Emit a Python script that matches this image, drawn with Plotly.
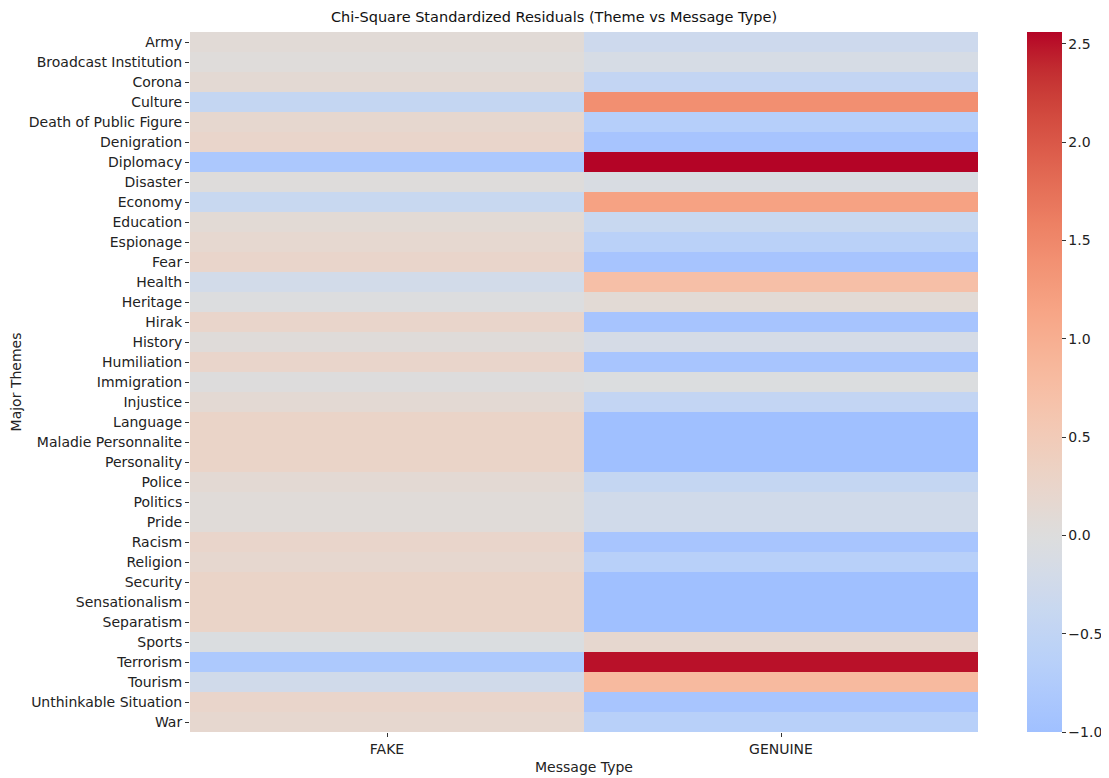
import numpy as np
import plotly.graph_objects as go

themes = ["Army", "Broadcast Institution", "Corona", "Culture", "Death of Public Figure",
          "Denigration", "Diplomacy", "Disaster", "Economy", "Education", "Espionage",
          "Fear", "Health", "Heritage", "Hirak", "History", "Humiliation", "Immigration",
          "Injustice", "Language", "Maladie Personnalite", "Personality", "Police",
          "Politics", "Pride", "Racism", "Religion", "Security", "Sensationalism",
          "Separatism", "Sports", "Terrorism", "Tourism", "Unthinkable Situation", "War"]

fake = [0.09, 0.04, 0.13, -0.45, 0.19, 0.25, -0.82, 0.03, -0.38, 0.11, 0.17,
        0.25, -0.22, -0.03, 0.25, 0.05, 0.25, 0.01, 0.13, 0.28, 0.28, 0.28, 0.13,
        0.07, 0.07, 0.25, 0.18, 0.28, 0.28, 0.28, -0.06, -0.80, -0.25, 0.25, 0.18]

genuine = [-0.31, -0.15, -0.46, 1.41, -0.67, -0.90, 2.56, -0.10, 1.18, -0.38, -0.60,
           -0.90, 0.72, 0.10, -0.90, -0.16, -0.88, -0.04, -0.46, -1.00, -1.00, -1.00,
           -0.45, -0.25, -0.25, -0.88, -0.65, -1.00, -1.00, -1.00, 0.18, 2.50, 0.82,
           -0.88, -0.65]

message_types = ["FAKE", "GENUINE"]

# matplotlib coolwarm, sampled
cw = [(59, 76, 192), (68, 90, 204), (77, 104, 215), (87, 117, 225), (98, 130, 234),
      (108, 142, 241), (119, 154, 247), (130, 165, 251), (141, 176, 254), (152, 185, 255),
      (163, 194, 255), (174, 201, 253), (184, 208, 249), (194, 213, 244), (204, 217, 238),
      (213, 219, 230), (221, 221, 221), (229, 216, 209), (236, 211, 197), (241, 204, 185),
      (245, 196, 173), (247, 187, 160), (247, 177, 148), (247, 166, 135), (244, 154, 123),
      (241, 141, 111), (236, 127, 99), (229, 112, 88), (222, 96, 77), (213, 80, 66),
      (203, 62, 56), (192, 40, 47), (180, 4, 38)]
cw = np.array(cw, dtype=float)
cw_t = np.linspace(0, 1, len(cw))

z = [[f, g] for f, g in zip(fake, genuine)]
zmin = min(min(fake), min(genuine))
zmax = max(max(fake), max(genuine))
rng = max(zmax, -zmin)  # centred at 0

colorscale = []
for s in np.linspace(0, 1, 41):
    v = zmin + s * (zmax - zmin)
    t = (v + rng) / (2 * rng)
    r, g, b = [np.interp(t, cw_t, cw[:, i]) for i in range(3)]
    colorscale.append([float(s), f"rgb({r:.0f},{g:.0f},{b:.0f})"])

font = "DejaVu Sans, sans-serif"

fig = go.Figure(go.Heatmap(
    z=z, x=message_types, y=themes,
    zmin=zmin, zmax=zmax, colorscale=colorscale,
    colorbar=dict(
        x=1.062, xanchor="left", xref="paper",
        y=0, yanchor="bottom", len=1, lenmode="fraction",
        thickness=35, outlinewidth=0, xpad=0, ypad=0,
        tickvals=[-1.0, -0.5, 0.0, 0.5, 1.0, 1.5, 2.0, 2.5],
        tickformat=".1f", ticks="outside", ticklen=4, tickcolor="#333",
        tickfont=dict(family=font, size=14, color="#222"),
    ),
))

# page body has an 8px margin, so the figure is 8px smaller and shifted
fig.update_layout(
    width=1101, height=770,
    margin=dict(l=182, r=131, t=24, b=46, autoexpand=False),
    paper_bgcolor="white", plot_bgcolor="white",
    font=dict(family=font, size=14, color="#222"),
    title=dict(text="Chi-Square Standardized Residuals (Theme vs Message Type)",
               x=546 / 1101, xref="container", xanchor="center", y=0.988, yanchor="middle",
               font=dict(family=font, size=14.5, color="#111")),
)
fig.update_xaxes(title=dict(text="Message Type", standoff=6, font=dict(size=14)),
                 ticks="outside", ticklen=4, tickcolor="#333",
                 tickfont=dict(size=14), showgrid=False, zeroline=False)
fig.update_yaxes(title=dict(text="Major Themes", standoff=8, font=dict(size=14)),
                 autorange="reversed", ticks="outside", ticklen=4, tickcolor="#333",
                 tickfont=dict(size=14), showgrid=False, zeroline=False)

fig.write_html("out.html")
